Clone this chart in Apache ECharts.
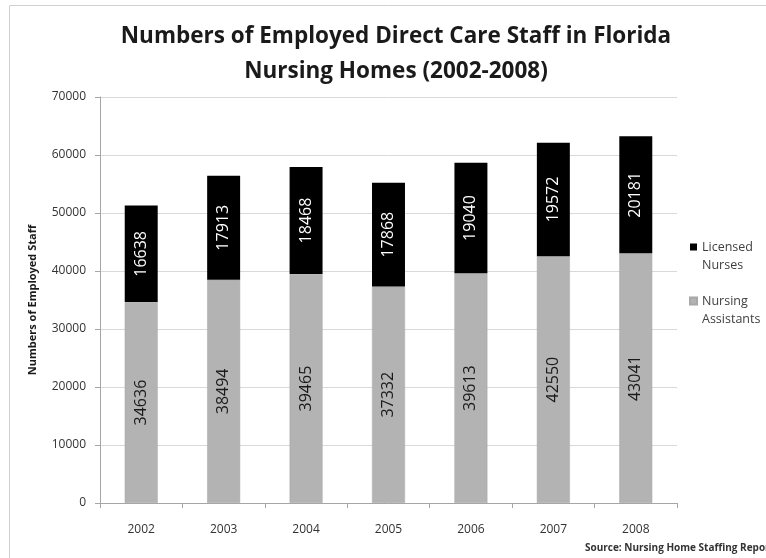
<!DOCTYPE html>
<html>
<head>
<meta charset="utf-8">
<script src="https://cdn.jsdelivr.net/npm/echarts@6/dist/echarts.min.js"></script>
<style>
  html, body { margin: 0; padding: 0; background: #fff; }
  #main { width: 766px; height: 558px; }
</style>
</head>
<body>
<div id="main"></div>
<script>
'use strict'

// data
var years = ['2002', '2003', '2004', '2005', '2006', '2007', '2008'];
var assistants = [34636, 38494, 39465, 37332, 39613, 42550, 43041];
var licensed = [16638, 17913, 18468, 17868, 19040, 19572, 20181];

var myChart = echarts.init(document.getElementById('main'));

var font = '"Open Sans", "Liberation Sans", sans-serif';

var option = {
    animation: false,
    textStyle: { fontFamily: font },
    title: {
        text: 'Numbers of Employed Direct Care Staff in Florida\nNursing Homes (2002-2008)',
        left: 391,
        textAlign: 'center',
        top: 14,
        textStyle: {
            fontFamily: font,
            fontSize: 22.5,
            fontWeight: 'bold',
            color: '#1a1a1a',
            lineHeight: 35
        }
    },
    graphic: [
        {
            type: 'rect',
            shape: { x: 9.5, y: 5.5, width: 800, height: 600 },
            style: { fill: 'none', stroke: '#d0d0d0', lineWidth: 1 },
            silent: true
        },
        {
            type: 'text',
            left: 585,
            top: 543,
            style: {
                text: 'Source: Nursing Home Staffing Report',
                font: 'bold 10px ' + font,
                fill: '#333'
            }
        }
    ],
    legend: {
        orient: 'vertical',
        left: 689,
        top: 238,
        padding: 0,
        itemWidth: 7,
        itemHeight: 25,
        itemGap: 18,
        // square sits at the top so it lines up with the first text line
        icon: 'path://M0,0h7v7h-7z M0,25',
        data: ['Licensed\nNurses', 'Nursing\nAssistants'],
        textStyle: { fontSize: 12.5, color: '#404040', lineHeight: 18 }
    },
    grid: { left: 100, right: 89, top: 97, bottom: 55 },
    xAxis: {
        type: 'category',
        data: years,
        axisLine: { lineStyle: { color: '#a6a6a6' } },
        axisTick: { show: true, alignWithLabel: false, length: 5, lineStyle: { color: '#a6a6a6' } },
        axisLabel: { color: '#333', fontSize: 12, margin: 21 }
    },
    yAxis: {
        type: 'value',
        min: 0,
        max: 70000,
        interval: 10000,
        name: 'Numbers of Employed Staff',
        nameLocation: 'middle',
        nameGap: 62,
        nameTextStyle: { fontSize: 11, fontWeight: 'bold', color: '#1a1a1a' },
        axisLine: { show: true, lineStyle: { color: '#a6a6a6' } },
        axisTick: { show: true, length: 5, lineStyle: { color: '#a6a6a6' } },
        axisLabel: { color: '#333', fontSize: 12, margin: 14, formatter: function (v) { return String(v); } },
        splitLine: { lineStyle: { color: '#d9d9d9' } }
    },
    series: [
        {
            name: 'Nursing\nAssistants',
            type: 'bar',
            stack: 'staff',
            data: assistants,
            barWidth: '40%',
            itemStyle: { color: '#b3b3b3', borderColor: '#a8a8a8', borderWidth: 0.5 },
            label: {
                show: true,
                position: 'inside',
                rotate: 90,
                color: '#1a1a1a',
                fontSize: 16
            }
        },
        {
            name: 'Licensed\nNurses',
            type: 'bar',
            stack: 'staff',
            data: licensed,
            barWidth: '40%',
            itemStyle: { color: '#000000' },
            label: {
                show: true,
                position: 'inside',
                rotate: 90,
                color: '#ffffff',
                fontSize: 16
            }
        }
    ]
};

myChart.setOption(option);
</script>
</body>
</html>
